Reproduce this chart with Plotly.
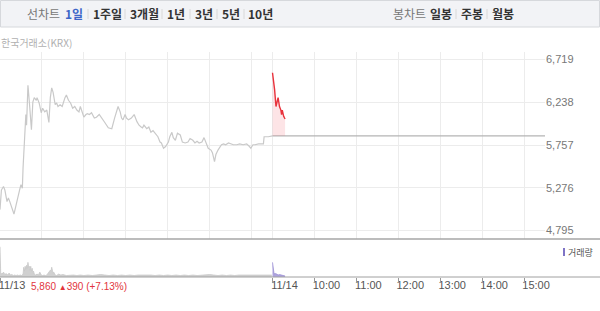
import plotly.graph_objects as go

# ---------------- data ----------------
# minutes since 09:00 on 11/13 (11/14 session starts at 390)
day1_min = [0,2,5,7,10,12,14,17,20,23,
            25,28,30,32,33,35,37,38,40,42,
            45,47,49,52,53,56,59,61,64,67,
            70,72,74,76,79,81,83,86,89,93,
            95,98,101,104,107,110,113,115,118,120,
            123,125,128,131,135,138,142,146,150,155,
            160,164,167,169,172,174,176,179,181,184,
            188,192,196,199,202,204,206,210,213,216,
            219,222,226,229,231,234,237,241,243,246,
            248,251,254,258,261,265,269,272,276,279,
            282,285,289,292,295,298,302,304,307,309,
            312,314,317,320,323,327,330,334,339,343,
            348,353,357,359,362,365,370,375,377,378,
            384,390]
day1_price = [5030,5250,5290,5250,5120,5160,5120,5060,4980,5080,
              5160,5250,5310,5270,5500,5790,6100,5980,6430,6240,
              5930,6240,6290,6260,6290,6230,6120,6170,6130,6150,
              6010,6290,6400,6350,6210,6230,6190,6210,6190,6290,
              6320,6260,6230,6170,6190,6150,6130,6190,6130,6070,
              6100,6110,6100,6120,6060,6070,6100,6060,6010,5950,
              5940,6060,6150,6190,6130,6060,6040,6100,6060,6040,
              6060,6100,6020,5980,5960,5950,5980,5940,5960,5900,
              5920,5890,5850,5790,5780,5720,5740,5790,5850,5900,
              5840,5810,5890,5870,5790,5780,5790,5830,5810,5780,
              5800,5780,5790,5840,5770,5720,5700,5670,5570,5650,
              5700,5720,5760,5770,5760,5780,5770,5760,5760,5770,
              5760,5770,5740,5720,5760,5760,5770,5770,5770,5850,
              5850,5860]

prev_close = 5860
session_end = [390, 780]

day2_min = [390,392,393,395,397,398,400,402,403,404,406,408]
day2_price = [6570,6450,6380,6190,6260,6290,6190,6150,6100,6150,6080,6050]

vol1_min = [0,1,3,5,7,9,11,13,15,17,
            19,21,23,25,27,29,31,33,34,35,
            36,37,38,39,40,41,42,43,44,45,
            46,47,48,49,51,53,55,57,59,61,
            63,65,67,69,71,72,73,74,75,76,
            77,79,81,84,87,90,95,100,105,110,
            115,120,126,132,138,144,150,156,162,168,
            174,180,186,192,198,204,210,216,222,228,
            234,240,246,252,258,264,270,276,282,288,
            294,300,306,312,318,324,330,336,342,348,
            354,360,366,372,378,384,389]
vol1 = [310,40,30,50,25,35,20,40,20,25,
        15,20,15,20,15,20,15,30,100,60,
        110,80,120,90,150,100,110,70,110,60,
        90,50,60,30,20,30,20,50,20,15,
        20,15,20,40,50,70,60,100,70,40,
        50,20,15,30,20,25,15,20,20,15,
        20,15,20,15,20,25,20,15,20,15,
        20,15,20,15,20,20,25,20,15,20,
        15,20,15,20,15,20,15,20,15,20,
        20,25,20,15,20,15,20,15,20,20,
        15,20,15,20,15,20,20]

vol2_min = [390,391,392,393,394,396,398,400,402,404,406,408]
vol2 = [150,60,45,30,35,30,20,25,20,15,15,10]

price_ticks = [4795, 5276, 5757, 6238, 6719]
grid_min = [60,120,180,240,300,360,390,450,510,570,630,690,750]
time_ticks = [0,390,450,510,570,630,690,750]
time_labels = ["11/13","11/14","10:00","11:00","12:00","13:00","14:00","15:00"]

# ---------------- layout helpers ----------------
W, H = 600, 311
def px(x):
    return x / W
def py(y):
    return 1 - y / H

FONT = "Liberation Sans, Noto Sans CJK KR, sans-serif"
KFONT = "Noto Sans CJK KR, sans-serif"

fig = go.Figure()

fig.add_trace(go.Scatter(x=day1_min, y=day1_price, mode="lines",
                         line=dict(color="#c9c9c9", width=1.2),
                         xaxis="x", yaxis="y", hoverinfo="skip"))
fig.add_trace(go.Scatter(x=session_end, y=[prev_close, prev_close], mode="lines",
                         line=dict(color="#b4b4b4", width=1.2),
                         xaxis="x", yaxis="y", hoverinfo="skip"))
fig.add_trace(go.Scatter(x=day2_min, y=[prev_close] * len(day2_min), mode="lines",
                         line=dict(width=0, color="rgba(0,0,0,0)"),
                         xaxis="x", yaxis="y", hoverinfo="skip"))
fig.add_trace(go.Scatter(x=day2_min, y=day2_price, mode="lines",
                         line=dict(color="#e8323c", width=1.4),
                         fill="tonexty", fillcolor="rgba(240,90,100,0.16)",
                         xaxis="x", yaxis="y", hoverinfo="skip"))

fig.add_trace(go.Scatter(x=vol1_min, y=vol1, mode="lines",
                         line=dict(color="#c8c8c8", width=0.8),
                         fill="tozeroy", fillcolor="rgba(200,200,200,0.85)",
                         xaxis="x2", yaxis="y2", hoverinfo="skip"))
fig.add_trace(go.Scatter(x=vol2_min, y=vol2, mode="lines",
                         line=dict(color="#9a8fd4", width=0.8),
                         fill="tozeroy", fillcolor="rgba(160,148,215,0.85)",
                         xaxis="x2", yaxis="y2", hoverinfo="skip"))

x_dom = [0, px(545)]
fig.update_layout(
    width=W, height=H,
    margin=dict(l=0, r=0, t=0, b=0, pad=0, autoexpand=False),
    paper_bgcolor="white", plot_bgcolor="white",
    showlegend=False,
    font=dict(family=FONT),
    xaxis=dict(domain=x_dom, range=[0, 780], anchor="y", automargin=False,
               tickvals=grid_min, showticklabels=False,
               showgrid=True, gridcolor="#ececec", gridwidth=1,
               zeroline=False, showline=False, ticks=""),
    yaxis=dict(domain=[py(239), py(52)], range=[4699.4, 6803.4], anchor="x",
               automargin=False,
               side="right", tickvals=price_ticks, tickformat=",d",
               showgrid=True, gridcolor="#ececec", gridwidth=1,
               zeroline=False, showline=False, ticks="",
               tickfont=dict(size=11, color="#777", family=FONT)),
    # labels of the time axis (no tick marks)
    xaxis2=dict(domain=x_dom, range=[0, 780], anchor="y2", automargin=False,
                tickvals=time_ticks, ticktext=time_labels,
                ticks="", ticklabelshift=12, ticklabelstandoff=0,
                ticklabeloverflow="allow",
                showgrid=False, zeroline=False, showline=False,
                tickfont=dict(size=11, color="#555", family=FONT)),
    # tick marks of the time axis
    xaxis3=dict(domain=x_dom, range=[0, 780], anchor="y2", overlaying="x2",
                automargin=False, tickvals=time_ticks, showticklabels=False,
                ticks="outside", ticklen=5, tickcolor="#999", tickwidth=1,
                showgrid=False, zeroline=False, showline=False),
    yaxis2=dict(domain=[py(277), py(240)], range=[0, 380], anchor="x2",
                automargin=False,
                showgrid=False, showticklabels=False, zeroline=False,
                showline=False, ticks=""),
)
# an invisible trace so the tick-mark axis is drawn
fig.add_trace(go.Scatter(x=[0], y=[0], mode="markers", marker=dict(opacity=0),
                         xaxis="x3", yaxis="y2", hoverinfo="skip"))

shapes = []
# top tab bar
shapes.append(dict(type="rect", xref="paper", yref="paper",
                   x0=px(0.5), x1=px(599.5), y0=py(27), y1=py(0.5),
                   fillcolor="#f2f3f6", line=dict(color="#d6d8dc", width=1), layer="below"))
for sx in [88, 125, 162, 190, 217, 244, 456, 487]:
    shapes.append(dict(type="line", xref="paper", yref="paper",
                       x0=px(sx), x1=px(sx), y0=py(19), y1=py(9),
                       line=dict(color="#d8d8d8", width=1)))
# panel separator and bottom axis lines
shapes.append(dict(type="line", xref="paper", yref="paper",
                   x0=0, x1=1, y0=py(239), y1=py(239),
                   line=dict(color="#a6a6a6", width=1.5)))
shapes.append(dict(type="line", xref="paper", yref="paper",
                   x0=0, x1=1, y0=py(277), y1=py(277),
                   line=dict(color="#a0a0a0", width=1)))
# volume legend swatch
shapes.append(dict(type="rect", xref="paper", yref="paper",
                   x0=px(563), x1=px(565), y0=py(256), y1=py(248),
                   fillcolor="#7f74c6", line=dict(width=0)))
fig.update_layout(shapes=shapes)

ann = []
def txt(x, y, s, size, color, bold=False, family=KFONT, anchor="left"):
    ann.append(dict(xref="paper", yref="paper", x=px(x), y=py(y),
                    xanchor=anchor, yanchor="middle", showarrow=False,
                    text=("<b>%s</b>" % s) if bold else s,
                    font=dict(size=size, color=color, family=family)))

txt(43, 14, "선차트", 12, "#777", anchor="center")
txt(74, 14, "1일", 12, "#3d66c8", bold=True, anchor="center")
txt(107, 14, "1주일", 12, "#333", bold=True, anchor="center")
txt(144, 14, "3개월", 12, "#333", bold=True, anchor="center")
txt(175.5, 14, "1년", 12, "#333", bold=True, anchor="center")
txt(203.5, 14, "3년", 12, "#333", bold=True, anchor="center")
txt(230.5, 14, "5년", 12, "#333", bold=True, anchor="center")
txt(260.5, 14, "10년", 12, "#333", bold=True, anchor="center")
txt(409, 14, "봉차트", 12, "#777", anchor="center")
txt(440.5, 14, "일봉", 12, "#333", bold=True, anchor="center")
txt(471.5, 14, "주봉", 12, "#333", bold=True, anchor="center")
txt(503, 14, "월봉", 12, "#333", bold=True, anchor="center")
txt(-1, 43, "한국거래소(KRX)", 10, "#b0b0b0")
txt(566, 252, "거래량", 9, "#555")
txt(29, 286, "5,860 <span style='font-size:8px'>▲</span>390 (+7.13%)", 10, "#e2343c", family=FONT)
fig.update_layout(annotations=ann)

fig.write_html("out.html")
